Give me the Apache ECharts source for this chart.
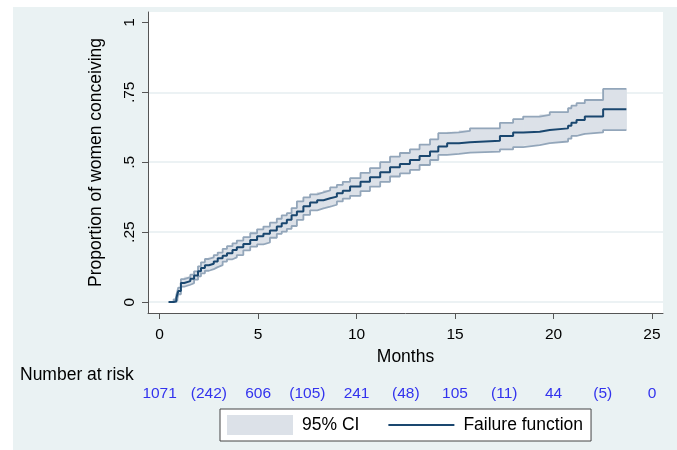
<!DOCTYPE html>
<html>
<head>
<meta charset="utf-8">
<script src="https://cdn.jsdelivr.net/npm/echarts@6/dist/echarts.min.js"></script>
<style>
  html, body { margin: 0; padding: 0; background: #fff; }
  #main {
    width: 677px; height: 450px;
    /* stata graph region: light blue, inset a little from the top-left */
    background: linear-gradient(#eaf2f3, #eaf2f3) 13px 7px / 664px 443px no-repeat, #fff;
  }
</style>
</head>
<body>
<div id="main"></div>
<script>
// months since start
var times = [0.46, 0.71, 0.85, 0.95, 1.08, 1.25, 1.56, 1.75, 1.95, 2.1, 2.3, 2.5, 2.75, 2.95,
             3.2, 3.42, 3.7, 3.92, 4.25, 4.6, 4.95, 5.27, 5.6, 5.95, 6.2, 6.46, 6.7, 6.97,
             7.3, 7.64, 8.0, 8.32, 8.66, 9.0, 9.3, 9.67, 10.2, 10.68, 11.2, 11.7, 12.2, 12.71,
             13.2, 13.73, 14.15, 14.6, 15.2, 15.76, 17.28, 17.95, 18.46, 19.3, 19.81, 20.74,
             20.91, 21.17, 21.59, 22.52, 23.7];
// kaplan-meier failure function
var failure = [0, 0.004, 0.015, 0.04, 0.068, 0.075, 0.083, 0.095, 0.11, 0.122, 0.132, 0.137, 0.145, 0.157,
               0.166, 0.175, 0.186, 0.196, 0.208, 0.222, 0.235, 0.244, 0.256, 0.27, 0.282, 0.294, 0.31, 0.324,
               0.343, 0.356, 0.364, 0.371, 0.377, 0.389, 0.398, 0.413, 0.43, 0.446, 0.464, 0.482, 0.494, 0.508,
               0.522, 0.538, 0.556, 0.568, 0.571, 0.577, 0.594, 0.606, 0.609, 0.615, 0.621, 0.63,
               0.641, 0.651, 0.663, 0.689, 0.689];
// 95% confidence band
var ciLower = [0, 0, 0.005, 0.028, 0.055, 0.062, 0.068, 0.08, 0.092, 0.103, 0.112, 0.118, 0.125, 0.132,
               0.145, 0.153, 0.16, 0.168, 0.185, 0.198, 0.206, 0.213, 0.23, 0.244, 0.252, 0.262, 0.272, 0.294,
               0.312, 0.328, 0.335, 0.341, 0.348, 0.36, 0.37, 0.38, 0.397, 0.413, 0.43, 0.449, 0.46, 0.4725,
               0.49, 0.508, 0.526, 0.53, 0.534, 0.538, 0.546, 0.554, 0.561, 0.568, 0.574, 0.584,
               0.594, 0.601, 0.607, 0.615, 0.615];
var ciUpper = [0, 0.01, 0.025, 0.052, 0.082, 0.089, 0.098, 0.11, 0.128, 0.142, 0.154, 0.16, 0.168, 0.177,
               0.19, 0.2, 0.21, 0.22, 0.232, 0.246, 0.26, 0.27, 0.284, 0.298, 0.31, 0.318, 0.336, 0.36,
               0.374, 0.385, 0.392, 0.399, 0.41, 0.419, 0.43, 0.443, 0.462, 0.479, 0.5, 0.52, 0.533, 0.546,
               0.563, 0.582, 0.604, 0.607, 0.612, 0.621, 0.641, 0.654, 0.663, 0.669, 0.679, 0.693,
               0.702, 0.711, 0.7225, 0.762, 0.762];

var xTicks = [0, 5, 10, 15, 20, 25];
var yTicks = [0, 0.25, 0.5, 0.75, 1];
var yTickLabels = ['0', '.25', '.5', '.75', '1'];
var gridValues = [0, 0.25, 0.5, 0.75];
// number at risk (censored in brackets)
var riskTimes = [0, 2.5, 5, 7.5, 10, 12.5, 15, 17.5, 20, 22.5, 25];
var riskLabels = ['1071', '(242)', '606', '(105)', '241', '(48)', '105', '(11)', '44', '(5)', '0'];

var font = 'Liberation Sans, Arial, sans-serif';
var navy = '#1a476f';
var ciFill = '#dce1e8';
var ciEdge = '#93a6ba';

function pairs(ys) {
    return times.map(function (t, i) { return [t, ys[i]]; });
}
// one block per step of the band: [from, to, lower, upper]
var bandSteps = [];
for (var i = 0; i < times.length - 1; i++) {
    bandSteps.push([times[i], times[i + 1], ciLower[i], ciUpper[i]]);
}

var chart = echarts.init(document.getElementById('main'));

var option = {
    animation: false,
    textStyle: { fontFamily: font },
    grid: {
        left: 148, right: 14, top: 12, bottom: 137,
        show: true, backgroundColor: '#fff', borderWidth: 0
    },
    legend: {
        left: 220, top: 409,
        padding: [6, 8, 6, 7],
        backgroundColor: '#fff',
        borderColor: '#444', borderWidth: 1, borderRadius: 0,
        itemWidth: 66, itemHeight: 20, itemGap: 29,
        textStyle: { fontFamily: font, fontSize: 17.5, color: '#000', padding: [0, 0, 0, 4] },
        data: [
            { name: '95% CI', icon: 'rect', itemStyle: { color: ciFill, borderWidth: 0 } },
            { name: 'Failure function', icon: 'path://M0,0H66V2H0Z', itemStyle: { color: navy, borderWidth: 0 } }
        ]
    },
    graphic: [{
        type: 'text', left: 20, top: 366,
        style: { text: 'Number at risk', fontFamily: font, fontSize: 17.5, fill: '#000' }
    }],
    xAxis: [{
        type: 'value', min: -0.59, max: 25.56,
        name: 'Months', nameLocation: 'middle', nameGap: 34,
        nameTextStyle: { fontFamily: font, fontSize: 17.5, color: '#000' },
        axisLine: { onZero: false, lineStyle: { color: '#555', width: 1 } },
        axisTick: { customValues: xTicks, length: 6, lineStyle: { color: '#555' } },
        axisLabel: { customValues: xTicks, margin: 14, fontSize: 15.5, color: '#000', fontFamily: font },
        splitLine: { show: false }
    }, {
        // risk table row under the axis
        type: 'value', min: -0.59, max: 25.56, position: 'bottom',
        axisLine: { show: false }, axisTick: { show: false }, splitLine: { show: false },
        axisLabel: {
            customValues: riskTimes, margin: 73, fontSize: 15.5, color: '#3333ee', fontFamily: font,
            formatter: function (v) { return riskLabels[riskTimes.indexOf(v)]; }
        }
    }],
    yAxis: [{
        type: 'value', min: -0.039, max: 1.037,
        name: 'Proportion of women conceiving', nameLocation: 'middle', nameGap: 43,
        nameTextStyle: { fontFamily: font, fontSize: 17.5, color: '#000' },
        axisLine: { onZero: false, lineStyle: { color: '#555', width: 1 } },
        axisTick: { customValues: yTicks, length: 6, lineStyle: { color: '#555' } },
        axisLabel: {
            customValues: yTicks, rotate: 90, margin: 10, fontSize: 15.5, color: '#000', fontFamily: font,
            formatter: function (v) { return yTickLabels[yTicks.indexOf(v)]; }
        },
        splitLine: { show: false }
    }, {
        // only carries the grid lines
        type: 'value', min: -0.039, max: 1.037, position: 'left',
        axisLine: { show: false }, axisLabel: { show: false },
        axisTick: { show: false, customValues: gridValues },
        splitLine: { show: true, lineStyle: { color: '#e6eef0', width: 1.5 } }
    }],
    series: [{
        name: '95% CI', type: 'custom', silent: true, z: 2, color: ciFill,
        data: bandSteps,
        encode: { x: [0, 1], y: [2, 3] },
        renderItem: function (params, api) {
            var p0 = api.coord([api.value(0), api.value(3)]);
            var p1 = api.coord([api.value(1), api.value(2)]);
            return {
                type: 'rect',
                shape: { x: p0[0], y: p0[1], width: p1[0] - p0[0], height: p1[1] - p0[1] },
                style: { fill: ciFill, stroke: ciFill, lineWidth: 1 }
            };
        }
    }, {
        name: 'ci lower', type: 'line', step: 'end', symbol: 'none', silent: true,
        data: pairs(ciLower), z: 3,
        lineStyle: { color: ciEdge, width: 1.8 }
    }, {
        name: 'ci upper', type: 'line', step: 'end', symbol: 'none', silent: true,
        data: pairs(ciUpper), z: 3,
        lineStyle: { color: ciEdge, width: 1.8 }
    }, {
        name: 'Failure function', type: 'line', step: 'end', symbol: 'none', silent: true,
        data: pairs(failure), z: 4, color: navy,
        lineStyle: { color: navy, width: 2 }
    }]
};
chart.setOption(option);
</script>
</body>
</html>
